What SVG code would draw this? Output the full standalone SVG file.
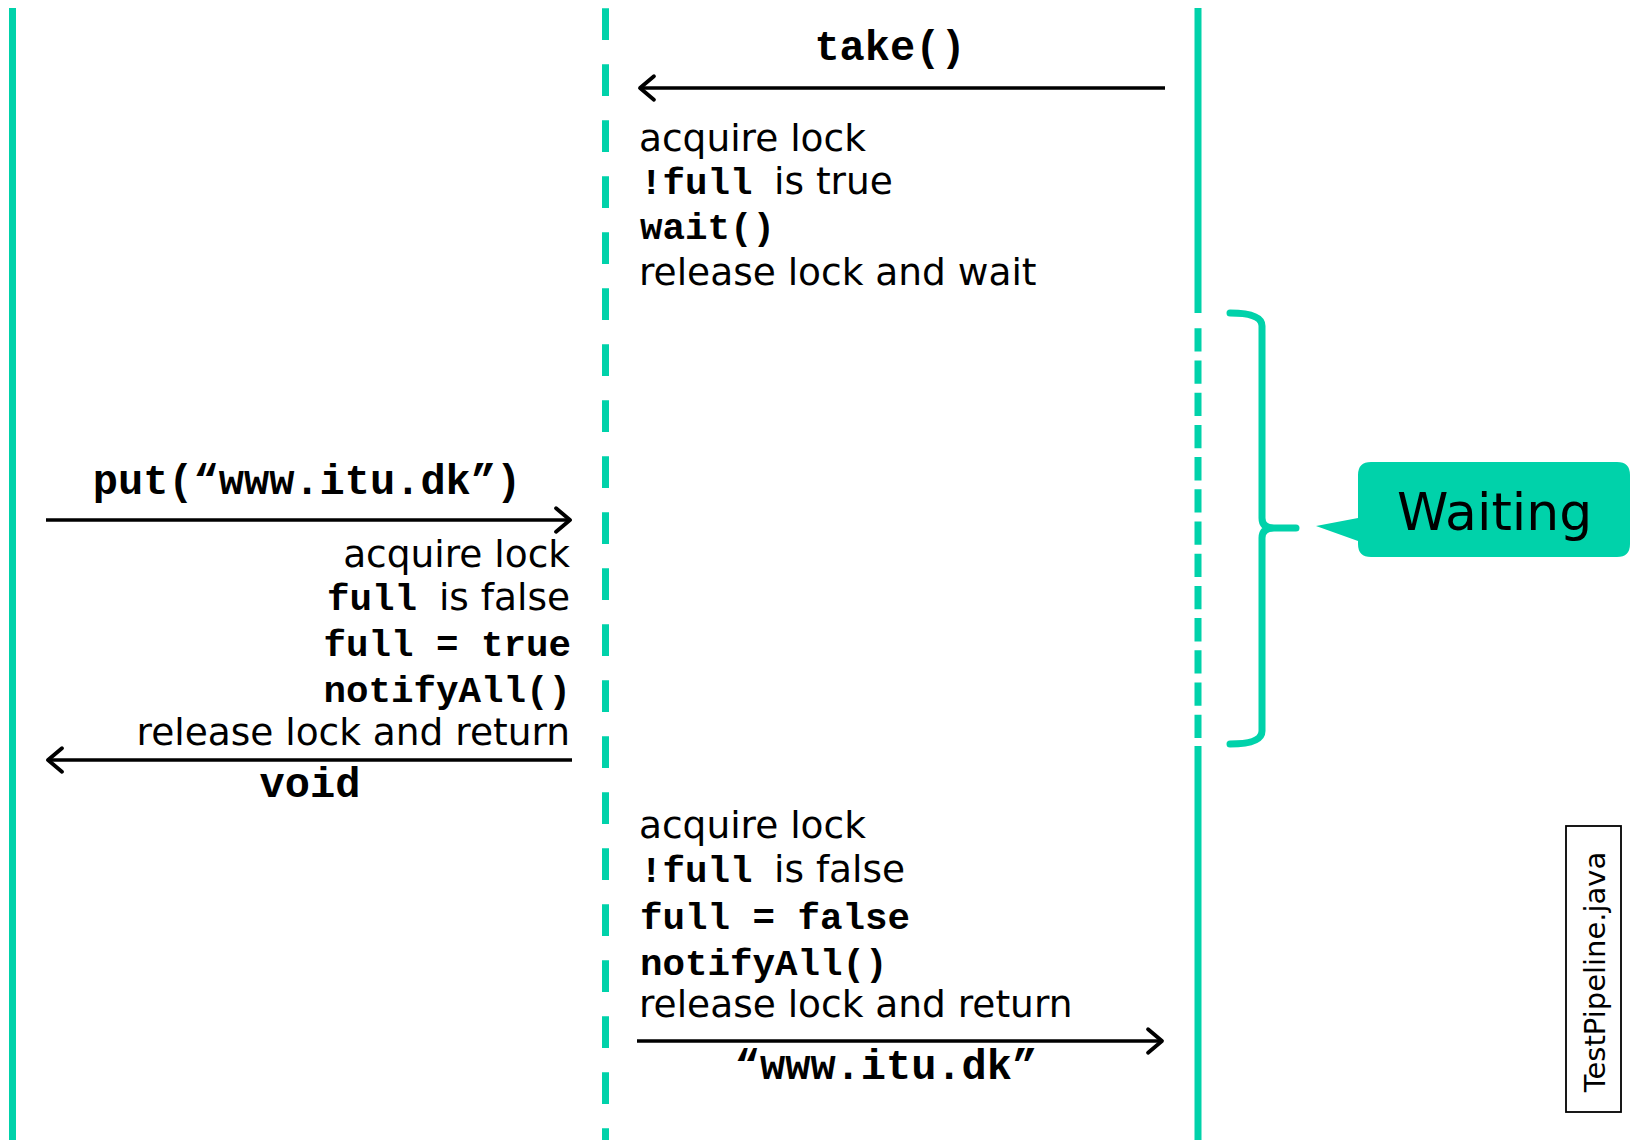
<svg xmlns="http://www.w3.org/2000/svg" width="1633" height="1140" viewBox="0 0 1633 1140">
  <style>
    .life { stroke: #00D2AA; stroke-width: 7; fill: none; }
    .dash-mid { stroke-dasharray: 31.7 24.3; }
    .dash-wait { stroke-dasharray: 23.3 8.9; }
    .msgline { stroke: #000; stroke-width: 3.4; fill: none; marker-end: url(#head); }
    .sans { font-family: "DejaVu Sans", Verdana, sans-serif; font-size: 37.5px; fill: #000; }
    .mono { font-family: "Liberation Mono", "Courier New", monospace; font-weight: bold; font-size: 37.5px; fill: #000; }
    .msg { font-family: "Liberation Mono", "Courier New", monospace; font-weight: bold; font-size: 42px; fill: #000; text-anchor: middle; }
    .end { text-anchor: end; }
  </style>
  <defs>
    <marker id="head" markerUnits="userSpaceOnUse" markerWidth="30" markerHeight="30" viewBox="-16 -14 20 28" refX="0" refY="0" orient="auto">
      <path d="M -13 -11 L 0 0 L -13 11" fill="none" stroke="#000" stroke-width="3.6" stroke-linecap="round" stroke-linejoin="round"/>
    </marker>
  </defs>
  <rect width="1633" height="1140" fill="#fff"/>

  <g id="lifeline-producer">
    <line class="life" x1="12.5" y1="8" x2="12.5" y2="1140"/>
  </g>
  <g id="lifeline-pipeline">
    <line class="life dash-mid" x1="605.5" y1="8.3" x2="605.5" y2="1140"/>
  </g>
  <g id="lifeline-consumer">
    <line class="life" x1="1198" y1="8" x2="1198" y2="313"/>
    <line class="life dash-wait" x1="1198" y1="328.3" x2="1198" y2="738"/>
    <line class="life" x1="1198" y1="746" x2="1198" y2="1140"/>
  </g>

  <g id="connectors">
    <line class="msgline" x1="1165" y1="88" x2="640" y2="88"/>
    <line class="msgline" x1="46" y1="520" x2="570" y2="520"/>
    <line class="msgline" x1="572" y1="760" x2="48" y2="760"/>
    <line class="msgline" x1="637" y1="1041" x2="1162" y2="1041"/>
  </g>

  <g id="msg-take">
    <text class="msg" x="890" y="60">take()</text>
  </g>
  <g id="block-take">
    <text class="sans" x="639" y="151">acquire lock</text>
    <text class="mono" x="640" y="194">!full</text>
    <text class="sans" x="774" y="194">is true</text>
    <text class="mono" x="640" y="239">wait()</text>
    <text class="sans" x="639" y="285">release lock and wait</text>
  </g>

  <g id="msg-put">
    <text class="msg" x="307" y="494">put(“www.itu.dk”)</text>
  </g>
  <g id="block-put">
    <text class="sans end" x="570" y="567">acquire lock</text>
    <text class="mono end" x="417" y="610">full</text>
    <text class="sans end" x="570" y="610">is false</text>
    <text class="mono end" x="571" y="656">full = true</text>
    <text class="mono end" x="571" y="702">notifyAll()</text>
    <text class="sans end" x="570" y="745">release lock and return</text>
  </g>
  <g id="msg-void">
    <text class="msg" x="310" y="797">void</text>
  </g>

  <g id="block-return">
    <text class="sans" x="639" y="838">acquire lock</text>
    <text class="mono" x="640" y="882">!full</text>
    <text class="sans" x="774" y="882">is false</text>
    <text class="mono" x="640" y="929">full = false</text>
    <text class="mono" x="640" y="975">notifyAll()</text>
    <text class="sans" x="639" y="1017">release lock and return</text>
  </g>
  <g id="msg-result">
    <text class="msg" x="886" y="1079">“www.itu.dk”</text>
  </g>

  <g id="waiting-brace">
    <path d="M1230,313 Q1262,313 1262,326 L1262,518 Q1262,528 1274,528 L1296,528 M1274,528 Q1262,528 1262,538 L1262,731 Q1262,744 1230,744" fill="none" stroke="#00D2AA" stroke-width="7" stroke-linecap="round" stroke-linejoin="round"/>
  </g>

  <g id="waiting-callout">
    <path d="M1371,462 H1617 Q1630,462 1630,475 V544 Q1630,557 1617,557 H1371 Q1358,557 1358,544 V541 L1316,526 L1358,518 V475 Q1358,462 1371,462 Z" fill="#00D2AA"/>
    <text x="1397" y="530" font-family="'DejaVu Sans', Verdana, sans-serif" font-size="52" fill="#000">Waiting</text>
  </g>

  <g id="file-label">
    <rect x="1566" y="826" width="55" height="286" fill="#fff" stroke="#000" stroke-width="1.8"/>
    <text transform="translate(1605,972) rotate(-90)" text-anchor="middle" font-family="'DejaVu Sans', Verdana, sans-serif" font-size="29" fill="#000">TestPipeline.java</text>
  </g>
</svg>
